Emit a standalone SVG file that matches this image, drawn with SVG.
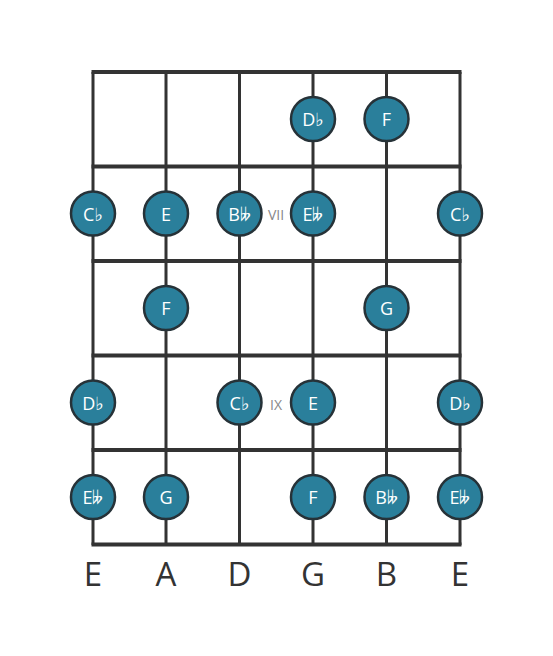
<svg xmlns="http://www.w3.org/2000/svg" width="553" height="656" viewBox="0 0 553 656">
<style>
.fret{stroke:#333;stroke-width:4;}
.str{stroke:#333;stroke-width:3;}
.dot{fill:#2a7f9b;stroke:#263238;stroke-width:2.5;}
.lbl{fill:#fff;font-family:"Open Sans","DejaVu Sans",sans-serif;font-size:18px;text-anchor:middle;dominant-baseline:central;}
.pos{fill:#888;font-family:"Open Sans","DejaVu Sans",sans-serif;font-size:14px;text-anchor:middle;dominant-baseline:central;}
.sn{fill:#333;font-family:"Open Sans","DejaVu Sans",sans-serif;font-size:33px;text-anchor:middle;}
</style>
<rect width="553" height="656" fill="#fff"/>
<g id="connectors">
<line class="str" x1="93" y1="72" x2="93" y2="545"/>
<line class="str" x1="166" y1="72" x2="166" y2="545"/>
<line class="str" x1="239.5" y1="72" x2="239.5" y2="545"/>
<line class="str" x1="313" y1="72" x2="313" y2="545"/>
<line class="str" x1="386.5" y1="72" x2="386.5" y2="545"/>
<line class="str" x1="460" y1="72" x2="460" y2="545"/>
<line class="fret" x1="91.5" y1="72" x2="461.5" y2="72"/>
<line class="fret" x1="91.5" y1="166.5" x2="461.5" y2="166.5"/>
<line class="fret" x1="91.5" y1="261" x2="461.5" y2="261"/>
<line class="fret" x1="91.5" y1="355.5" x2="461.5" y2="355.5"/>
<line class="fret" x1="91.5" y1="450" x2="461.5" y2="450"/>
<line class="fret" x1="91.5" y1="544.5" x2="461.5" y2="544.5"/>
</g>
<text class="pos" x="276" y="214">VII</text>
<text class="pos" x="276" y="404">IX</text>
<g id="n1"><circle class="dot" cx="313" cy="119" r="22"/><text class="lbl" x="313" y="119">D♭</text></g>
<g id="n2"><circle class="dot" cx="386.5" cy="119" r="22"/><text class="lbl" x="386.5" y="119">F</text></g>
<g id="n3"><circle class="dot" cx="93" cy="213.5" r="22"/><text class="lbl" x="93" y="213.5">C♭</text></g>
<g id="n4"><circle class="dot" cx="166" cy="213.5" r="22"/><text class="lbl" x="166" y="213.5">E</text></g>
<g id="n5"><circle class="dot" cx="239.5" cy="213.5" r="22"/><text class="lbl" x="239.5" y="213.5">B𝄫</text></g>
<g id="n6"><circle class="dot" cx="313" cy="213.5" r="22"/><text class="lbl" x="313" y="213.5">E𝄫</text></g>
<g id="n7"><circle class="dot" cx="460" cy="213.5" r="22"/><text class="lbl" x="460" y="213.5">C♭</text></g>
<g id="n8"><circle class="dot" cx="166" cy="308" r="22"/><text class="lbl" x="166" y="308">F</text></g>
<g id="n9"><circle class="dot" cx="386.5" cy="308" r="22"/><text class="lbl" x="386.5" y="308">G</text></g>
<g id="n10"><circle class="dot" cx="93" cy="402.5" r="22"/><text class="lbl" x="93" y="402.5">D♭</text></g>
<g id="n11"><circle class="dot" cx="239.5" cy="402.5" r="22"/><text class="lbl" x="239.5" y="402.5">C♭</text></g>
<g id="n12"><circle class="dot" cx="313" cy="402.5" r="22"/><text class="lbl" x="313" y="402.5">E</text></g>
<g id="n13"><circle class="dot" cx="460" cy="402.5" r="22"/><text class="lbl" x="460" y="402.5">D♭</text></g>
<g id="n14"><circle class="dot" cx="93" cy="497" r="22"/><text class="lbl" x="93" y="497">E𝄫</text></g>
<g id="n15"><circle class="dot" cx="166" cy="497" r="22"/><text class="lbl" x="166" y="497">G</text></g>
<g id="n16"><circle class="dot" cx="313" cy="497" r="22"/><text class="lbl" x="313" y="497">F</text></g>
<g id="n17"><circle class="dot" cx="386.5" cy="497" r="22"/><text class="lbl" x="386.5" y="497">B𝄫</text></g>
<g id="n18"><circle class="dot" cx="460" cy="497" r="22"/><text class="lbl" x="460" y="497">E𝄫</text></g>
<g id="strings">
<text class="sn" x="93" y="586">E</text>
<text class="sn" x="166" y="586">A</text>
<text class="sn" x="239.5" y="586">D</text>
<text class="sn" x="313" y="586">G</text>
<text class="sn" x="386.5" y="586">B</text>
<text class="sn" x="460" y="586">E</text>
</g>
</svg>
